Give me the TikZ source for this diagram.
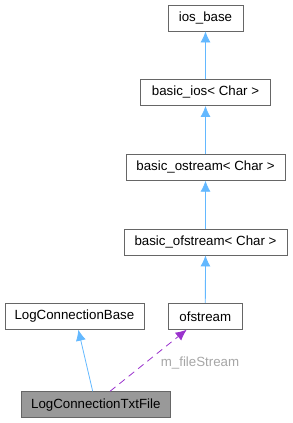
\documentclass[tikz,border=0pt]{standalone}
\usepackage{fontspec}
\setmainfont{Liberation Sans}
\usetikzlibrary{arrows.meta}
\definecolor{inheritblue}{HTML}{63B8FF}
\definecolor{usepurple}{HTML}{9A32CD}
\definecolor{boxgray}{HTML}{666666}
\tikzset{
  classbox/.style={draw=boxgray, fill=white, line width=0.8pt, minimum height=26pt,
    inner sep=0pt, font=\fontsize{13.3}{16}\selectfont},
  inherit/.style={draw=inheritblue, line width=0.8pt, -{Latex[length=11pt,width=10pt]}},
  uses/.style={draw=usepurple, line width=0.8pt, dashed, dash pattern=on 7pt off 5pt,
    -{Latex[length=11pt,width=10pt]}}
}
\begin{document}
\begin{tikzpicture}[x=1pt, y=-1pt]
  \useasboundingbox (0,0) rectangle (292,423);
  % class boxes
  \node[classbox, minimum width=75pt] (iosbase) at (205.5,18) {ios\_base};
  \node[classbox, minimum width=130pt] (basicios) at (205.5,92.5) {basic\_ios< Char >};
  \node[classbox, minimum width=159pt] (basicostream) at (205.5,167.3) {basic\_ostream< Char >};
  \node[classbox, minimum width=163pt] (basicofstream) at (205.5,242) {basic\_ofstream< Char >};
  \node[classbox, minimum width=139pt] (logbase) at (74.4,316.3) {LogConnectionBase};
  \node[classbox, minimum width=74pt] (ofstream) at (205.3,316.3) {ofstream};
  \node[classbox, minimum width=149pt, fill=black!40, draw=black!60] (logtxt) at (95.8,404.7) {LogConnectionTxtFile};
  % inheritance
  \draw[inherit] (basicios) -- (iosbase);
  \draw[inherit] (basicostream) -- (basicios);
  \draw[inherit] (basicofstream) -- (basicostream);
  \draw[inherit] (ofstream) -- (basicofstream);
  \draw[inherit] (logtxt.north -| 92.7,0) -- (logbase.south -| 78.3,0);
  % member usage
  \draw[uses] (logtxt.north -| 110,0) -- (ofstream.south -| 186.7,0)
    node[pos=0.51, anchor=west, xshift=8pt, yshift=-3pt, text=black!35, font=\fontsize{13.3}{16}\selectfont] {m\_fileStream};
\end{tikzpicture}
\end{document}
